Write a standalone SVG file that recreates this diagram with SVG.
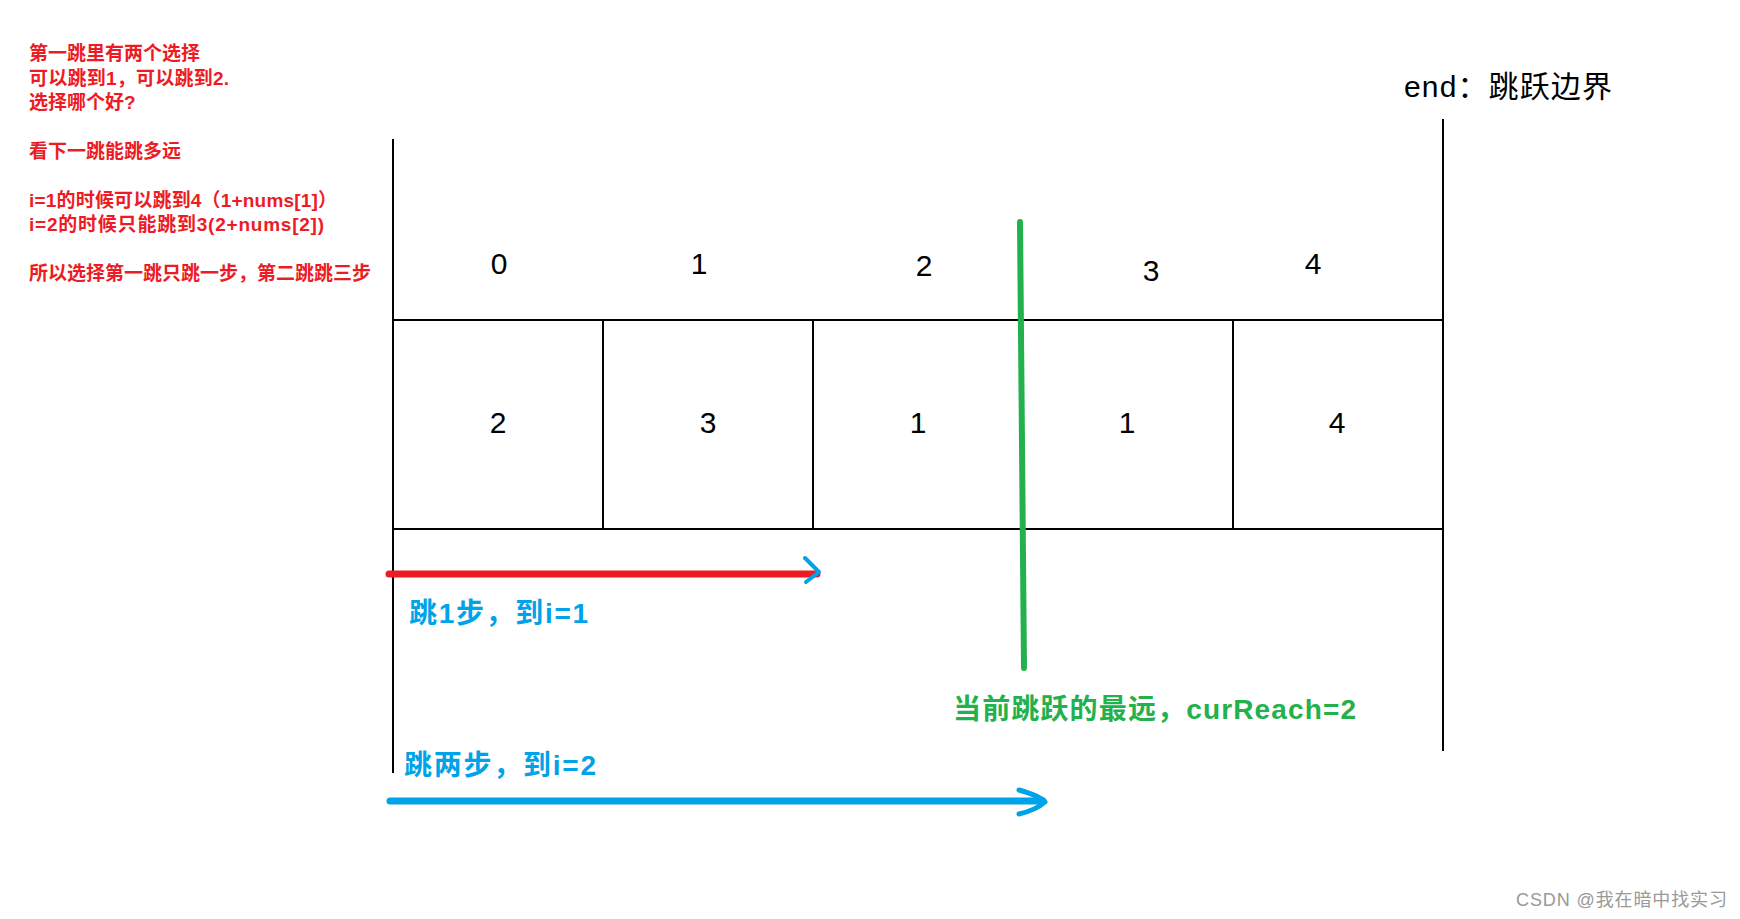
<svg xmlns="http://www.w3.org/2000/svg" width="1740" height="919" viewBox="0 0 1740 919">
<style>
.bk{stroke:#000;stroke-width:2;fill:none}
.num{font-family:"Liberation Sans",Arial,sans-serif;font-size:30px;fill:#000;text-anchor:middle}
.red{font-family:"Liberation Sans","Noto Sans CJK SC",sans-serif;font-size:19px;font-weight:bold;fill:#ed1c24}
.blue{font-family:"Liberation Sans","Noto Sans CJK SC",sans-serif;font-size:28px;font-weight:bold;fill:#00a2e8}
.green{font-family:"Liberation Sans","Noto Sans CJK SC",sans-serif;font-size:28px;font-weight:bold;fill:#22b14c}
</style>
<rect width="1740" height="919" fill="#fff"/>
<g id="notes">
<text class="red" x="29" y="60">第一跳里有两个选择</text>
<text class="red" x="29" y="85" textLength="200">可以跳到1，可以跳到2.</text>
<text class="red" x="29" y="109">选择哪个好?</text>
<text class="red" x="29" y="158">看下一跳能跳多远</text>
<text class="red" x="29" y="207" textLength="308">i=1的时候可以跳到4（1+nums[1]）</text>
<text class="red" x="29" y="231" textLength="295">i=2的时候只能跳到3(2+nums[2])</text>
<text class="red" x="29" y="280">所以选择第一跳只跳一步，第二跳跳三步</text>
</g>
<g id="end-label">
<text x="1404" y="97" font-family="Liberation Sans,'Noto Sans CJK SC',sans-serif" font-size="30" fill="#000" textLength="208">end：跳跃边界</text>
</g>
<g id="grid">
<line class="bk" x1="393" y1="139" x2="393" y2="773"/>
<line class="bk" x1="1443" y1="119" x2="1443" y2="751"/>
<line class="bk" x1="393" y1="320" x2="1443" y2="320"/>
<line class="bk" x1="393" y1="529" x2="1443" y2="529"/>
<line class="bk" x1="603" y1="320" x2="603" y2="529"/>
<line class="bk" x1="813" y1="320" x2="813" y2="529"/>
<line class="bk" x1="1233" y1="320" x2="1233" y2="529"/>
</g>
<g id="indices">
<text class="num" x="499" y="274">0</text>
<text class="num" x="699" y="274">1</text>
<text class="num" x="924" y="276">2</text>
<text class="num" x="1151" y="281">3</text>
<text class="num" x="1313" y="274">4</text>
</g>
<g id="values">
<text class="num" x="498" y="433">2</text>
<text class="num" x="708" y="433">3</text>
<text class="num" x="918" y="433">1</text>
<text class="num" x="1127" y="433">1</text>
<text class="num" x="1337" y="433">4</text>
</g>
<g id="connectors">
<line x1="1020" y1="222" x2="1024" y2="668" stroke="#22b14c" stroke-width="6" stroke-linecap="round"/>
<line x1="389" y1="574" x2="817" y2="574" stroke="#ed1c24" stroke-width="7" stroke-linecap="round"/>
<path d="M805,558 L819,572 L806,582" fill="none" stroke="#00a2e8" stroke-width="4" stroke-linecap="round" stroke-linejoin="round"/>
<line x1="390" y1="801" x2="1043" y2="801" stroke="#00a2e8" stroke-width="7" stroke-linecap="round"/>
<path d="M1019,790 Q1040,796 1045,802 Q1036,810 1019,814" fill="none" stroke="#00a2e8" stroke-width="5" stroke-linecap="round" stroke-linejoin="round"/>
</g>
<g id="labels">
<text class="blue" x="409" y="623" textLength="179">跳1步，到i=1</text>
<text class="blue" x="404" y="775" textLength="192">跳两步，到i=2</text>
<text class="green" x="953" y="719" textLength="403">当前跳跃的最远，curReach=2</text>
</g>
<g id="watermark">
<text x="1516" y="906" font-family="Liberation Sans,'Noto Sans CJK SC',sans-serif" font-size="18" fill="#999" textLength="211">CSDN @我在暗中找实习</text>
</g>
</svg>
